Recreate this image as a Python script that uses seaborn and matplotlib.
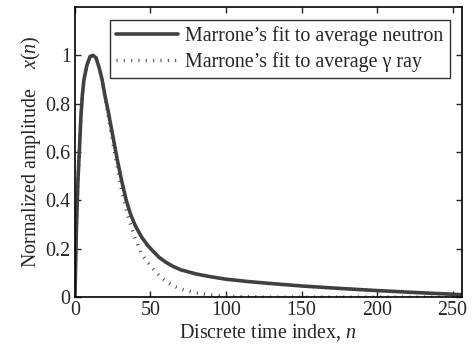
import seaborn as sns
import matplotlib.pyplot as plt
import pandas as pd

# sample index and read-off amplitudes
n_idx = [0, 1, 2, 3, 4, 5, 6, 8, 10, 12, 14, 16, 18, 20, 22, 25, 28, 31, 34, 37,
         40, 44, 48, 52, 56, 60, 65, 70, 80, 90, 100, 115, 130, 150, 175, 200, 225, 256]
neutron = [0, 0.28, 0.48, 0.61, 0.75, 0.84, 0.9, 0.96, 0.995, 1.0, 0.99, 0.95, 0.9, 0.83,
           0.77, 0.67, 0.57, 0.48, 0.4, 0.34, 0.295, 0.25, 0.215, 0.188, 0.163, 0.145, 0.127,
           0.113, 0.096, 0.084, 0.074, 0.064, 0.056, 0.046, 0.036, 0.027, 0.019, 0.01]
gamma = [0, 0.28, 0.48, 0.61, 0.75, 0.84, 0.9, 0.96, 0.995, 1.0, 0.99, 0.95, 0.9, 0.82,
         0.75, 0.64, 0.54, 0.44, 0.36, 0.295, 0.24, 0.18, 0.145, 0.115, 0.088, 0.066, 0.047,
         0.033, 0.018, 0.009, 0.004, 0.001, 0, 0, 0, 0, 0, 0]

labels = ["Marrone\u2019s fit to average neutron", "Marrone\u2019s fit to average \u03b3 ray"]

df = pd.DataFrame({"n": n_idx, "neutron": neutron, "gamma": gamma})

sns.set_style("ticks")
plt.rcParams["font.family"] = ["Liberation Serif", "DejaVu Serif"]
plt.rcParams["mathtext.fontset"] = "custom"
plt.rcParams["mathtext.rm"] = "Liberation Serif"
plt.rcParams["mathtext.it"] = "Liberation Serif:italic"

fig = plt.figure(figsize=(4.74, 3.52), dpi=100)
ax = fig.add_axes([0.158, 0.156, 0.816, 0.824])

sns.lineplot(data=df, x="n", y="neutron", ax=ax, color="#404040", linewidth=2.6, label=labels[0])
sns.lineplot(data=df, x="n", y="gamma", ax=ax, color="#404040", linewidth=2.4,
             linestyle=(0, (0.3, 1.9)), dash_capstyle="butt", label=labels[1])

ax.set_xlim(0, 256)
ax.set_ylim(0, 1.2)
ax.set_xticks([0, 50, 100, 150, 200, 250])
ax.set_yticks([0, 0.2, 0.4, 0.6, 0.8, 1.0])
ax.set_yticklabels(["0", "0.2", "0.4", "0.6", "0.8", "1"])
ax.tick_params(direction="in", top=True, right=True, length=4, width=1,
               labelsize=14.4, pad=3)
for s in ax.spines.values():
    s.set_linewidth(1.2)
    s.set_color("black")

ax.set_xlabel("Discrete time index, $n$", fontsize=14.4, labelpad=1)
ax.set_ylabel("Normalized amplitude    $x(n)$", fontsize=14.4, labelpad=2)

leg = ax.legend(loc="upper right", bbox_to_anchor=(0.969, 0.955), borderaxespad=0,
                fontsize=14.4, handlelength=3.1, handletextpad=0.38, borderpad=0.3,
                labelspacing=0.3, fancybox=False, frameon=True)
leg.get_frame().set_edgecolor("black")
leg.get_frame().set_linewidth(1.0)

plt.savefig("out.png", dpi=100)
